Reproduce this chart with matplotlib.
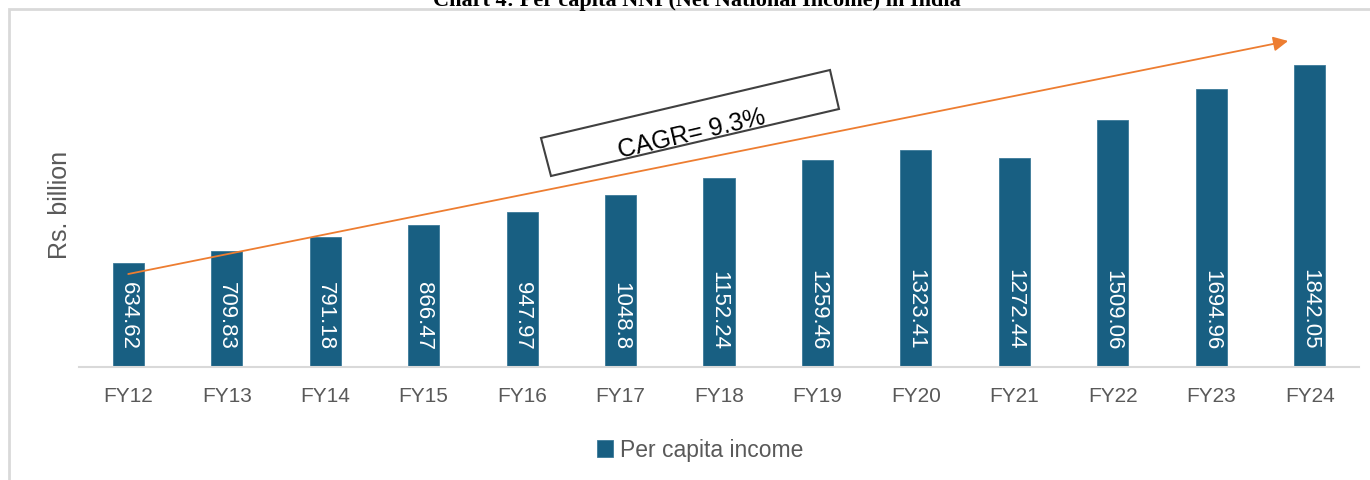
import matplotlib
matplotlib.use("Agg")
import matplotlib.pyplot as plt
from matplotlib.patches import Polygon, Rectangle

plt.rcParams['font.family'] = ['Liberation Sans', 'DejaVu Sans']

categories = ["FY12", "FY13", "FY14", "FY15", "FY16", "FY17", "FY18",
              "FY19", "FY20", "FY21", "FY22", "FY23", "FY24"]
values = [634.62, 709.83, 791.18, 866.47, 947.97, 1048.8, 1152.24,
          1259.46, 1323.41, 1272.44, 1509.06, 1694.96, 1842.05]
value_labels = ["634.62", "709.83", "791.18", "866.47", "947.97", "1048.8", "1152.24",
                "1259.46", "1323.41", "1272.44", "1509.06", "1694.96", "1842.05"]
series_name = "Per capita income"
y_label = "Rs. billion"
title = "Chart 4: Per capita NNI (Net National Income) in India"
cagr_text = "CAGR= 9.3%"
trend_start = (0, 567)
trend_end = (11.78, 1988)

W, H = 1370, 481
fig = plt.figure(figsize=(W / 100, H / 100), dpi=100)

def fx(px):
    return px / W

def fy(py):
    return 1 - py / H

# outer frame
fig.patches.append(Rectangle((fx(9), fy(540)), 1.2, fy(10) - fy(540),
                             transform=fig.transFigure, fill=False,
                             edgecolor='#D9D9D9', linewidth=2, zorder=0))

ax = fig.add_axes([fx(79), fy(368), fx(1359) - fx(79), fy(30) - fy(368)])
x = list(range(len(categories)))
bar_color = '#185F82'
bars = ax.bar(x, values, width=0.315, color=bar_color, edgecolor='#3C7A99',
              linewidth=0.6, label=series_name, zorder=2)
ax.set_xlim(-0.5, len(categories) - 0.5)
ax.set_ylim(0, 2061)

for xi, lab in zip(x, value_labels):
    ax.annotate(lab, (xi, 0), xytext=(0, 13), textcoords='offset points',
                rotation=270, ha='center', va='bottom', color='white',
                fontsize=16, zorder=3)

for s in ['top', 'right', 'left']:
    ax.spines[s].set_visible(False)
ax.spines['bottom'].set_color('#D9D9D9')
ax.spines['bottom'].set_linewidth(1.5)
ax.set_yticks([])
ax.set_xticks(x)
ax.set_xticklabels(categories, fontsize=15, color='#595959')
ax.tick_params(axis='x', length=0, pad=14)

fig.text(fx(60), fy(205), y_label, rotation=90, ha='center', va='center',
         fontsize=18, color='#595959')

# trend arrow
ax.annotate('', xy=trend_end, xytext=trend_start,
            arrowprops=dict(arrowstyle='-|>', color='#ED7D31', lw=1.3,
                            mutation_scale=22, shrinkA=0, shrinkB=0),
            zorder=4)

# CAGR box
corners = [(541, 139), (830, 71), (839, 110), (551, 177)]
fig.patches.append(Polygon([(fx(a), fy(b)) for a, b in corners], closed=True,
                           transform=fig.transFigure, facecolor='white',
                           edgecolor='#404040', linewidth=1.5, zorder=5))
fig.text(fx(692), fy(134), cagr_text, rotation=13.2, ha='center', va='center',
         fontsize=18, color='black', rotation_mode='anchor', zorder=6)

# legend
leg = fig.legend(handles=[bars], labels=[series_name], loc='center',
                 bbox_to_anchor=(fx(700), fy(451)), frameon=False,
                 fontsize=16.5, handlelength=0.7, handleheight=0.7,
                 handletextpad=0.3, labelcolor='#595959')

# clipped title
fig.text(fx(697), fy(6), title, ha='center', va='baseline',
         fontsize=16, fontweight='bold', family='Liberation Serif')

fig.savefig('out.png', dpi=100)
